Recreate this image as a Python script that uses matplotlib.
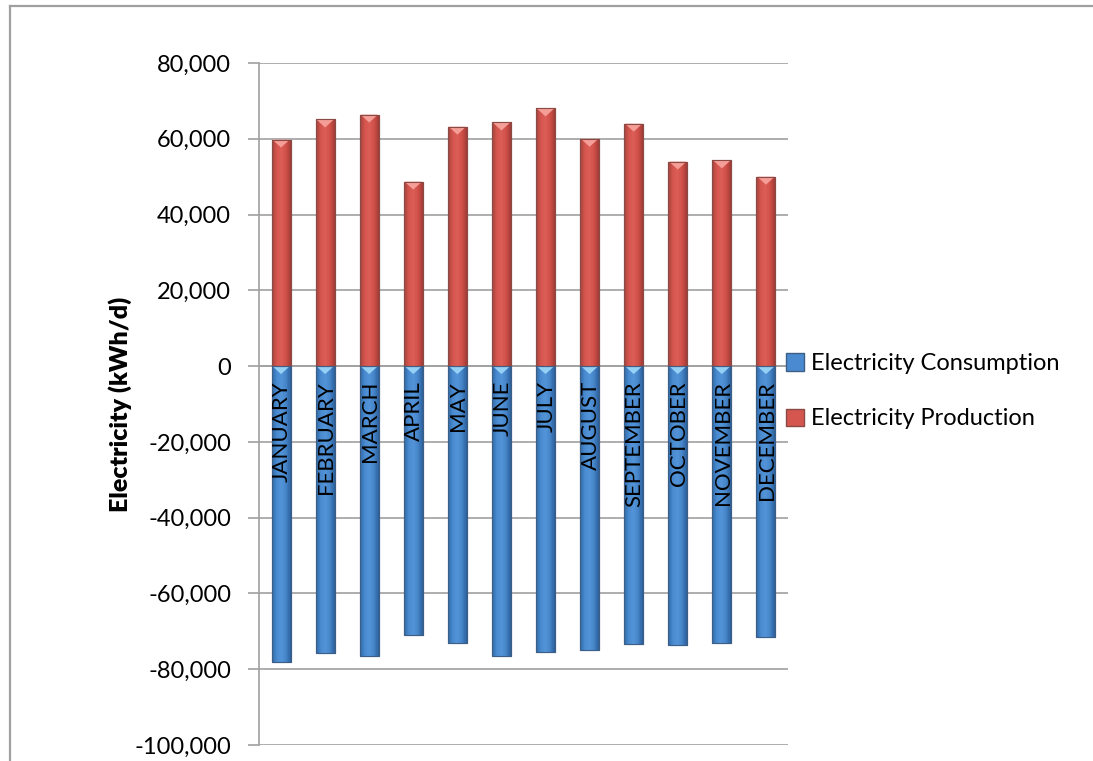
import matplotlib.pyplot as plt
import numpy as np
from matplotlib.colors import LinearSegmentedColormap
from matplotlib.lines import Line2D
from matplotlib.patches import Polygon, Patch

months = ["JANUARY", "FEBRUARY", "MARCH", "APRIL", "MAY", "JUNE",
          "JULY", "AUGUST", "SEPTEMBER", "OCTOBER", "NOVEMBER", "DECEMBER"]
production = [59800, 65100, 66400, 48700, 63200, 64300,
              68000, 60000, 64000, 54000, 54300, 50000]
consumption = [-78200, -75600, -76500, -71000, -73200, -76500,
               -75400, -75000, -73400, -73500, -73200, -71600]

plt.rcParams["font.family"] = ["Lato", "DejaVu Sans"]
plt.rcParams["font.size"] = 17

grid_col = "#a0a0a0"
red_cmap = LinearSegmentedColormap.from_list(
    "red", ["#a8423d", "#d4564e", "#dc5e56", "#cf5048", "#a33c37"])
blue_cmap = LinearSegmentedColormap.from_list(
    "blue", ["#2f6aa8", "#4a8ad0", "#5395d8", "#4584c8", "#2c609a"])

fig = plt.figure(figsize=(10.93, 7.61), dpi=100)
ax = fig.add_axes([259 / 1093, 16 / 761, 529 / 1093, 682 / 761])

x = np.arange(len(months))
width = 0.43
cons = ax.bar(x, consumption, width, color="#4a8ad0", edgecolor="#3d5f85",
              linewidth=0.8, zorder=3, label="Electricity Consumption")
prod = ax.bar(x, production, width, color="#d4564e", edgecolor="#8a4a46",
              linewidth=0.8, zorder=3, label="Electricity Production")

ax.set_xlim(-0.5, len(months) - 0.5)
ax.set_ylim(-100000, 80000)
fig.canvas.draw()

# px -> data height for the bevel triangles
px = (ax.get_ylim()[1] - ax.get_ylim()[0]) / ax.get_window_extent().height

grad = np.linspace(0, 1, 64).reshape(1, -1)
for bars, cmap, tri_col in [(prod, red_cmap, "#f59d97"), (cons, blue_cmap, "#95d0f5")]:
    for b in bars:
        x0, w = b.get_x(), b.get_width()
        y0, h = b.get_y(), b.get_height()
        im = ax.imshow(grad, cmap=cmap, aspect="auto", zorder=3.5,
                       extent=[x0, x0 + w, min(y0, y0 + h), max(y0, y0 + h)])
        im.set_clip_path(b)
        top = max(y0, y0 + h)
        tri = Polygon([[x0 + 0.04 * w, top], [x0 + 0.96 * w, top],
                       [x0 + w / 2, top - 8 * px]], closed=True,
                      facecolor=tri_col, edgecolor="none", zorder=3.6)
        ax.add_patch(tri)
        ax.add_patch(plt.Rectangle((x0, y0), w, h, facecolor="none",
                                   edgecolor=b.get_edgecolor(), linewidth=0.8,
                                   zorder=3.7))

ax.set_xlim(-0.5, len(months) - 0.5)
ax.set_ylim(-100000, 80000)

for i, m in enumerate(months):
    ax.annotate(m, (x[i], 0), xytext=(1, -15), textcoords="offset pixels",
                rotation=90, ha="center", va="top", fontsize=16, zorder=5)

ax.set_yticks(np.arange(-100000, 80001, 20000))
ax.yaxis.set_major_formatter(plt.FuncFormatter(lambda v, p: f"{int(v):,}"))
ax.set_xticks([])
ax.grid(axis="y", color=grid_col, linewidth=1.2, zorder=0)
ax.tick_params(axis="y", length=8, width=1.2, color=grid_col, pad=12)
for s in ["top", "right", "bottom"]:
    ax.spines[s].set_visible(False)
ax.spines["left"].set_color(grid_col)
ax.spines["left"].set_linewidth(1.2)
ax.axhline(0, color=grid_col, linewidth=1.2, zorder=1)
ax.set_ylabel("Electricity (kWh/d)", fontweight="heavy", fontsize=18, labelpad=2)

handles = [Patch(facecolor="#4a8ad0", edgecolor="#3d5f85"),
           Patch(facecolor="#d4564e", edgecolor="#8a4a46")]
fig.legend(handles, ["Electricity Consumption", "Electricity Production"],
           loc="upper left", bbox_to_anchor=(765 / 1093, 1 - 332 / 761),
           frameon=False, handlelength=0.75, handleheight=0.75,
           handletextpad=0.3, labelspacing=1.45, fontsize=17)

# outer chart border (top and left edges visible)
fig.add_artist(Line2D([10 / 1093, 1], [1 - 6 / 761, 1 - 6 / 761],
                      color=grid_col, linewidth=1.6))
fig.add_artist(Line2D([10 / 1093, 10 / 1093], [0, 1 - 6 / 761],
                      color=grid_col, linewidth=1.6))

fig.savefig("out.png", dpi=100)
